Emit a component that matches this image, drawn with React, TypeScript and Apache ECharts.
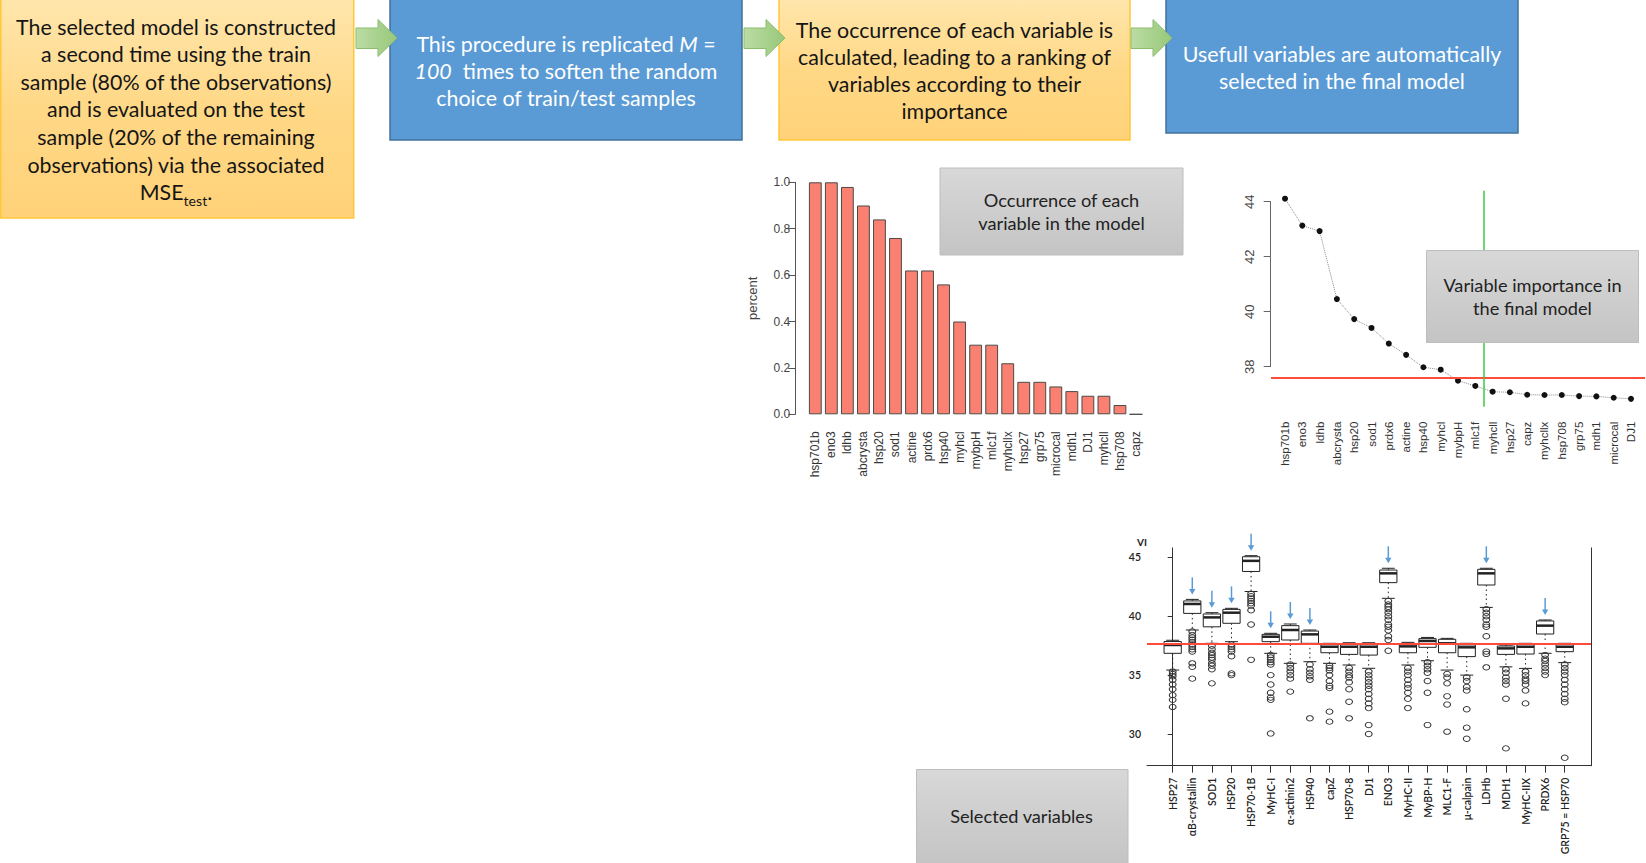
import React, { useEffect, useRef } from "react";
import * as echarts from "echarts";

// ---------- data ----------
const occurrenceVars = ["hsp701b", "eno3", "ldhb", "abcrysta", "hsp20", "sod1", "actine", "prdx6", "hsp40", "myhcl", "mybpH", "mlc1f", "myhcllx", "hsp27", "grp75", "microcal", "mdh1", "DJ1", "myhcll", "hsp708", "capz"];
const occurrenceValues = [1.0, 1.0, 0.98, 0.9, 0.84, 0.76, 0.62, 0.62, 0.56, 0.4, 0.3, 0.3, 0.22, 0.14, 0.14, 0.12, 0.1, 0.08, 0.08, 0.04, 0.0];
const occurrenceTicks = [0, 0.2, 0.4, 0.6, 0.8, 1.0];

const importanceVars = ["hsp701b", "eno3", "ldhb", "abcrysta", "hsp20", "sod1", "prdx6", "actine", "hsp40", "myhcl", "mybpH", "mlc1f", "myhcll", "hsp27", "capz", "myhcllx", "hsp708", "grp75", "mdh1", "microcal", "DJ1"];
const importanceValues = [44.11, 43.13, 42.93, 40.46, 39.73, 39.41, 38.84, 38.43, 37.98, 37.89, 37.49, 37.3, 37.09, 37.07, 36.98, 36.97, 36.97, 36.93, 36.92, 36.87, 36.83];
const importanceTicks = [38, 40, 42, 44];
const importanceThreshold = 37.6;
const importanceCut = 11.5;

const boxVars = ["HSP27", "αB-crystallin", "SOD1", "HSP20", "HSP70-1B", "MyHC-I", "α-actinin2", "HSP40", "capZ", "HSP70-8", "DJ1", "ENO3", "MyHC-II", "MyBP-H", "MLC1-F", "μ-calpain", "LDHb", "MDH1", "MyHC-IIX", "PRDX6", "GRP75 = HSP70"];
// [lower whisker, Q1, median, Q3, upper whisker]
const boxStats = [
  [35.43, 36.85, 37.56, 37.85, 37.96],
  [38.83, 40.24, 41.04, 41.3, 41.43],
  [37.7, 39.1, 39.9, 40.19, 40.3],
  [37.84, 39.4, 40.3, 40.58, 40.67],
  [42.1, 43.8, 44.7, 45.05, 45.14],
  [36.85, 37.84, 38.26, 38.46, 38.55],
  [36.0, 37.98, 38.83, 39.2, 39.34],
  [36.14, 37.7, 38.46, 38.74, 38.83],
  [36.0, 36.9, 37.41, 37.6, 37.7],
  [35.86, 36.76, 37.41, 37.6, 37.75],
  [35.58, 36.7, 37.41, 37.6, 37.75],
  [41.52, 42.85, 43.64, 43.92, 44.07],
  [35.86, 36.9, 37.44, 37.66, 37.78],
  [36.22, 37.36, 37.9, 38.1, 38.2],
  [35.43, 36.9, 37.7, 38.04, 38.12],
  [35.0, 36.57, 37.36, 37.56, 37.7],
  [40.75, 42.65, 43.64, 43.98, 44.07],
  [35.7, 36.76, 37.27, 37.47, 37.56],
  [35.57, 36.79, 37.41, 37.6, 37.7],
  [36.85, 38.49, 39.2, 39.6, 39.68],
  [36.06, 36.99, 37.41, 37.6, 37.7],
];
const boxOutliers = [
  [35.3, 35.1, 34.9, 34.6, 34.2, 33.8, 33.3, 32.9, 32.3],
  [38.7, 38.4, 38.2, 38.0, 37.8, 37.6, 37.4, 37.2, 37.0, 36.0, 35.7, 34.7],
  [37.5, 37.2, 36.9, 36.7, 36.5, 36.3, 36.0, 35.8, 35.5, 34.3],
  [37.6, 37.4, 37.2, 37.0, 36.6, 35.15, 35.0],
  [41.9, 41.7, 41.5, 41.3, 41.1, 40.9, 40.5, 39.3, 36.3],
  [36.7, 36.5, 36.3, 36.1, 35.9, 35.0, 34.2, 33.5, 33.1, 32.9, 30.05],
  [35.9, 35.6, 35.3, 35.0, 34.7, 33.6],
  [35.9, 35.5, 35.2, 34.9, 34.6, 31.33],
  [35.8, 35.6, 35.4, 35.0, 34.5, 34.1, 33.9, 31.9, 31.05],
  [35.6, 35.3, 35.0, 34.8, 34.4, 33.8, 32.74, 31.33],
  [35.3, 35.0, 34.7, 34.4, 34.1, 33.8, 33.4, 33.0, 32.6, 32.2, 30.76, 30.0],
  [41.3, 41.0, 40.8, 40.6, 40.3, 40.0, 39.7, 39.3, 39.1, 38.8, 38.3, 37.98, 37.07],
  [35.6, 35.3, 35.0, 34.6, 34.2, 33.9, 33.5, 33.0, 32.2],
  [36.1, 35.8, 35.5, 35.2, 34.5, 33.5, 30.76],
  [35.1, 34.8, 34.3, 33.2, 32.5, 30.2],
  [34.8, 34.5, 34.0, 33.7, 32.1, 30.54, 29.6],
  [40.6, 40.3, 40.0, 39.7, 39.3, 39.1, 38.3, 37.0, 36.8, 35.66],
  [35.5, 35.2, 34.8, 34.5, 34.2, 33.0, 28.78],
  [35.3, 35.0, 34.7, 34.5, 34.2, 33.7, 32.6],
  [36.7, 36.4, 36.2, 35.9, 35.6, 35.3, 35.0],
  [35.9, 35.6, 35.3, 35.0, 34.6, 34.2, 33.8, 33.4, 33.0, 32.7, 27.99],
];
const boxArrowed = [1, 2, 3, 4, 5, 6, 7, 11, 16, 19];
const boxTicks = [30, 35, 40, 45];
const boxThreshold = 37.64;

// ---------- texts ----------
const step1Lines = [
  "The selected model is constructed",
  "a second time using the train",
  "sample (80% of the observations)",
  "and is evaluated on the test",
  "sample (20% of the remaining",
  "observations) via the associated",
  "MSE{sub|test}.",
];
const step2Lines = [
  "This procedure is replicated {i|M} =",
  "{i|100}  times to soften the random",
  "choice of train/test samples",
];
const step3Lines = [
  "The occurrence of each variable is",
  "calculated, leading to a ranking of",
  "variables according to their",
  "importance",
];
const step4Lines = ["Usefull variables are automatically", "selected in the final model"];

const FONT_BOX = 'Lato, "Noto Sans", sans-serif';
const FONT_R = '"Liberation Sans", Arial, sans-serif';
const RED = "#FF4B3A";
const STEP_FONT = 21.4;
const LABEL_FONT = 18.2;

function orangeFill() {
  return new echarts.graphic.LinearGradient(0, 0, 0, 1, [
    { offset: 0, color: "#FFE6AC" },
    { offset: 0.5, color: "#FFD886" },
    { offset: 1, color: "#FFD279" },
  ]);
}
function grayFill() {
  return new echarts.graphic.LinearGradient(0, 0, 0, 1, [
    { offset: 0, color: "#D8D8D8" },
    { offset: 1, color: "#C4C4C4" },
  ]);
}
function greenFill() {
  return new echarts.graphic.LinearGradient(0, 0, 1, 0, [
    { offset: 0, color: "#BBDCA4" },
    { offset: 1, color: "#98C87A" },
  ]);
}

function textLines(lines: string[], cx: number, y0: number, dy: number, color: string, size: number) {
  return lines.map((t, k) => ({
    type: "text",
    z: 101,
    style: {
      text: t,
      x: cx,
      y: y0 + dy * k,
      align: "center",
      verticalAlign: "middle",
      fill: color,
      fontSize: size,
      fontFamily: FONT_BOX,
      lineHeight: size * 1.4,
      rich: {
        i: { fontStyle: "italic", fontSize: size, fontFamily: FONT_BOX, fill: color, lineHeight: size * 1.4 },
        sub: { fontSize: size * 0.66, fontFamily: FONT_BOX, fill: color, verticalAlign: "bottom" },
      },
    },
  }));
}

function box(x: number, y: number, w: number, h: number, fill: any, stroke: string, lw = 1.5) {
  return { type: "rect", z: 100, shape: { x, y, width: w, height: h }, style: { fill, stroke, lineWidth: lw } };
}

function arrow(x0: number) {
  const pts = [
    [x0, 28],
    [x0 + 22, 28],
    [x0 + 22, 19.5],
    [x0 + 41, 38],
    [x0 + 22, 56.5],
    [x0 + 22, 48.5],
    [x0, 48.5],
  ];
  return { type: "polygon", z: 102, shape: { points: pts }, style: { fill: greenFill(), stroke: "#8CBD6C", lineWidth: 1 } };
}

function buildOption() {
  const graphics: any[] = [
    box(0.75, -1, 353, 219, orangeFill(), "#FFC83A"),
    box(390, -1, 352, 141, "#5B9BD5", "#41719C"),
    box(779, -1, 351, 141, orangeFill(), "#FFC83A"),
    box(1166, -1, 352, 134, "#5B9BD5", "#41719C"),
    arrow(356),
    arrow(744),
    arrow(1131),
    ...textLines(step1Lines, 176, 26.5, 27.6, "#151515", STEP_FONT),
    ...textLines(step2Lines, 566, 43.5, 27.4, "#ffffff", STEP_FONT),
    ...textLines(step3Lines, 954.5, 29.5, 27.3, "#151515", STEP_FONT),
    ...textLines(step4Lines, 1342, 54, 27, "#ffffff", STEP_FONT),
    box(940, 168, 243, 87, grayFill(), "#BDBDBD", 1),
    ...textLines(["Occurrence of each", "variable in the model"], 1061.5, 199.5, 23.5, "#222", LABEL_FONT),
    box(1426.5, 250.5, 212, 92, grayFill(), "#BDBDBD", 1),
    ...textLines(["Variable importance in", "the final model"], 1532.5, 284.5, 23.5, "#222", LABEL_FONT),
    box(916.5, 769.5, 211.5, 95, grayFill(), "#BDBDBD", 1),
    ...textLines(["Selected variables"], 1021.5, 816, 23, "#222", LABEL_FONT),
    {
      type: "text",
      z: 101,
      style: { text: "VI", x: 1142, y: 542, align: "center", verticalAlign: "middle", fill: "#222", fontSize: 10, fontWeight: "bold", fontFamily: FONT_BOX },
    },
  ];

  const outlierPoints = boxOutliers.flatMap((arr, i) => arr.map((v) => [i, v]));
  const idx = importanceVars.map((_, i) => i);
  const boxIdx = boxVars.map((_, i) => i);

  return {
    animation: false,
    backgroundColor: "#ffffff",
    grid: [
      { left: 807.3, top: 182.3, width: 336.7, height: 232, outerBoundsMode: "none" },
      { left: 1271, top: 190.7, width: 374, height: 216, outerBoundsMode: "none" },
      { left: 1270.7, top: 201.7, width: 20, height: 165, outerBoundsMode: "none" },
      { left: 1147, top: 547.9, width: 444, height: 217.8, outerBoundsMode: "none" },
    ],
    xAxis: [
      {
        type: "category",
        gridIndex: 0,
        data: occurrenceVars,
        axisLine: { show: false },
        axisTick: { show: false },
        axisLabel: { interval: 0, rotate: 90, margin: 17, fontSize: 12, fontFamily: FONT_R, color: "#333" },
      },
      {
        type: "value",
        gridIndex: 1,
        min: -0.81,
        max: 20.81,
        axisLine: { show: false },
        axisTick: { show: false },
        splitLine: { show: false },
        axisLabel: {
          customValues: idx,
          formatter: (v: number) => importanceVars[Math.round(v)] ?? "",
          rotate: 90,
          margin: 15,
          fontSize: 11.5,
          fontFamily: FONT_R,
          color: "#333",
        },
      },
      { type: "value", gridIndex: 2, min: 0, max: 1, show: false },
      {
        type: "value",
        gridIndex: 3,
        min: -1.31,
        max: 21.34,
        axisLine: { show: true, onZero: false, lineStyle: { color: "#333", width: 1 } },
        axisTick: { show: true, customValues: boxIdx, length: 7, lineStyle: { color: "#333" } },
        splitLine: { show: false },
        axisLabel: {
          customValues: boxIdx,
          formatter: (v: number) => boxVars[Math.round(v)] ?? "",
          rotate: 90,
          margin: 12,
          fontSize: 10.5,
          fontWeight: 600,
          fontFamily: FONT_BOX,
          color: "#222",
        },
      },
    ],
    yAxis: [
      {
        type: "value",
        gridIndex: 0,
        min: 0,
        max: 1,
        interval: 0.2,
        offset: 12,
        axisLine: { show: true, lineStyle: { color: "#555" } },
        axisTick: { show: true, length: 7, lineStyle: { color: "#555" }, customValues: occurrenceTicks },
        splitLine: { show: false },
        axisLabel: { margin: 5, fontSize: 12, fontFamily: FONT_R, color: "#444", formatter: (v: number) => v.toFixed(1), customValues: occurrenceTicks },
        name: "percent",
        nameLocation: "middle",
        nameGap: 36,
        nameRotate: 90,
        nameTextStyle: { fontSize: 13, fontFamily: FONT_R, color: "#444" },
      },
      { type: "value", gridIndex: 1, min: 36.545, max: 44.4, show: false, splitLine: { show: false } },
      {
        type: "value",
        gridIndex: 2,
        min: 38,
        max: 44,
        interval: 2,
        axisLine: { show: true, lineStyle: { color: "#666" } },
        axisTick: { show: true, length: 7, lineStyle: { color: "#666" } },
        splitLine: { show: false },
        axisLabel: { rotate: 90, margin: 15, fontSize: 13, fontFamily: FONT_R, color: "#444", customValues: importanceTicks },
      },
      {
        type: "value",
        gridIndex: 3,
        min: 27.31,
        max: 45.8,
        axisLine: { show: true, lineStyle: { color: "#333" } },
        axisTick: { show: true, length: 5, customValues: boxTicks, lineStyle: { color: "#333" } },
        splitLine: { show: false },
        axisLabel: { customValues: boxTicks, margin: 6, fontSize: 10.5, fontWeight: 600, fontFamily: FONT_BOX, color: "#222" },
      },
      {
        type: "value",
        gridIndex: 3,
        position: "right",
        min: 27.31,
        max: 45.8,
        axisLine: { show: true, lineStyle: { color: "#333" } },
        axisTick: { show: false },
        axisLabel: { show: false },
        splitLine: { show: false },
      },
    ],
    series: [
      {
        type: "bar",
        xAxisIndex: 0,
        yAxisIndex: 0,
        data: occurrenceValues,
        barCategoryGap: "20%",
        itemStyle: { color: "#FA8072", borderColor: "#4a4a4a", borderWidth: 1 },
        silent: true,
      },
      {
        type: "line",
        xAxisIndex: 1,
        yAxisIndex: 1,
        data: importanceValues.map((v, i) => [i, v]),
        symbol: "circle",
        symbolSize: 6,
        itemStyle: { color: "#111" },
        lineStyle: { color: "#888", width: 1, type: "dotted" },
        silent: true,
        markLine: {
          silent: true,
          symbol: ["none", "none"],
          label: { show: false },
          data: [
            { yAxis: importanceThreshold, lineStyle: { color: RED, width: 2, type: "solid" } },
            { xAxis: importanceCut, lineStyle: { color: "#3CCB3C", width: 1.5, type: "solid" } },
          ],
        },
      },
      {
        type: "custom",
        coordinateSystem: "cartesian2d",
        xAxisIndex: 3,
        yAxisIndex: 3,
        z: 2,
        silent: true,
        data: boxStats.map((s, i) => [i, ...s]),
        encode: { x: 0, y: [1, 2, 3, 4, 5] },
        renderItem: (params: any, api: any) => {
          const i = api.value(0);
          const top = api.coord([i, api.value(5)]);
          const q3 = api.coord([i, api.value(4)])[1];
          const med = api.coord([i, api.value(3)])[1];
          const q1 = api.coord([i, api.value(2)])[1];
          const low = api.coord([i, api.value(1)])[1];
          const x = top[0];
          const yMax = top[1];
          const unit = api.size([1, 0])[0];
          const hw = unit * 0.44;
          const cw = hw * 0.75;
          const ink = "#222";
          return {
            type: "group",
            children: [
              { type: "line", shape: { x1: x, y1: yMax, x2: x, y2: q3 }, style: { stroke: ink, lineWidth: 1, lineDash: [1.5, 3] } },
              { type: "line", shape: { x1: x, y1: q1, x2: x, y2: low }, style: { stroke: ink, lineWidth: 1, lineDash: [1.5, 3] } },
              { type: "line", shape: { x1: x - cw, y1: yMax, x2: x + cw, y2: yMax }, style: { stroke: ink, lineWidth: 1 } },
              { type: "line", shape: { x1: x - cw, y1: low, x2: x + cw, y2: low }, style: { stroke: ink, lineWidth: 1 } },
              { type: "rect", shape: { x: x - hw, y: q3, width: 2 * hw, height: q1 - q3 }, style: { fill: "#fff", stroke: ink, lineWidth: 1 } },
              { type: "line", shape: { x1: x - hw, y1: med, x2: x + hw, y2: med }, style: { stroke: ink, lineWidth: 2.5 } },
            ],
          };
        },
      },
      {
        type: "scatter",
        xAxisIndex: 3,
        yAxisIndex: 3,
        z: 3,
        silent: true,
        data: outlierPoints,
        symbol: "circle",
        symbolSize: [6.8, 5.4],
        itemStyle: { color: "rgba(255,255,255,0)", borderColor: "#333", borderWidth: 1, opacity: 1 },
        markLine: {
          silent: true,
          z: 6,
          symbol: ["none", "none"],
          label: { show: false },
          lineStyle: { color: RED, width: 2, type: "solid" },
          data: [{ yAxis: boxThreshold }],
        },
      },
      {
        type: "custom",
        coordinateSystem: "cartesian2d",
        xAxisIndex: 3,
        yAxisIndex: 3,
        z: 4,
        silent: true,
        data: boxArrowed.map((i) => [i, boxStats[i][4]]),
        encode: { x: 0, y: 1 },
        renderItem: (params: any, api: any) => {
          const p = api.coord([api.value(0), api.value(1)]);
          const x = p[0];
          const tip = p[1] - 5;
          const tail = tip - 17;
          const c = "#5B9BD5";
          return {
            type: "group",
            children: [
              { type: "line", shape: { x1: x, y1: tail, x2: x, y2: tip - 4 }, style: { stroke: c, lineWidth: 1.5 } },
              { type: "polygon", shape: { points: [[x - 3.2, tip - 5.5], [x + 3.2, tip - 5.5], [x, tip]] }, style: { fill: c } },
            ],
          };
        },
      },
    ],
    graphic: { elements: graphics },
  };
}

export default function App() {
  const ref = useRef<HTMLDivElement>(null);
  useEffect(() => {
    if (!ref.current) return;
    const chart = echarts.init(ref.current, null, { renderer: "svg" });
    chart.setOption(buildOption() as any);
    return () => chart.dispose();
  }, []);
  return (
    <div
      ref={ref}
      style={{ position: "fixed", left: 0, top: 0, width: 1646, height: 863, background: "#ffffff" }}
    />
  );
}
